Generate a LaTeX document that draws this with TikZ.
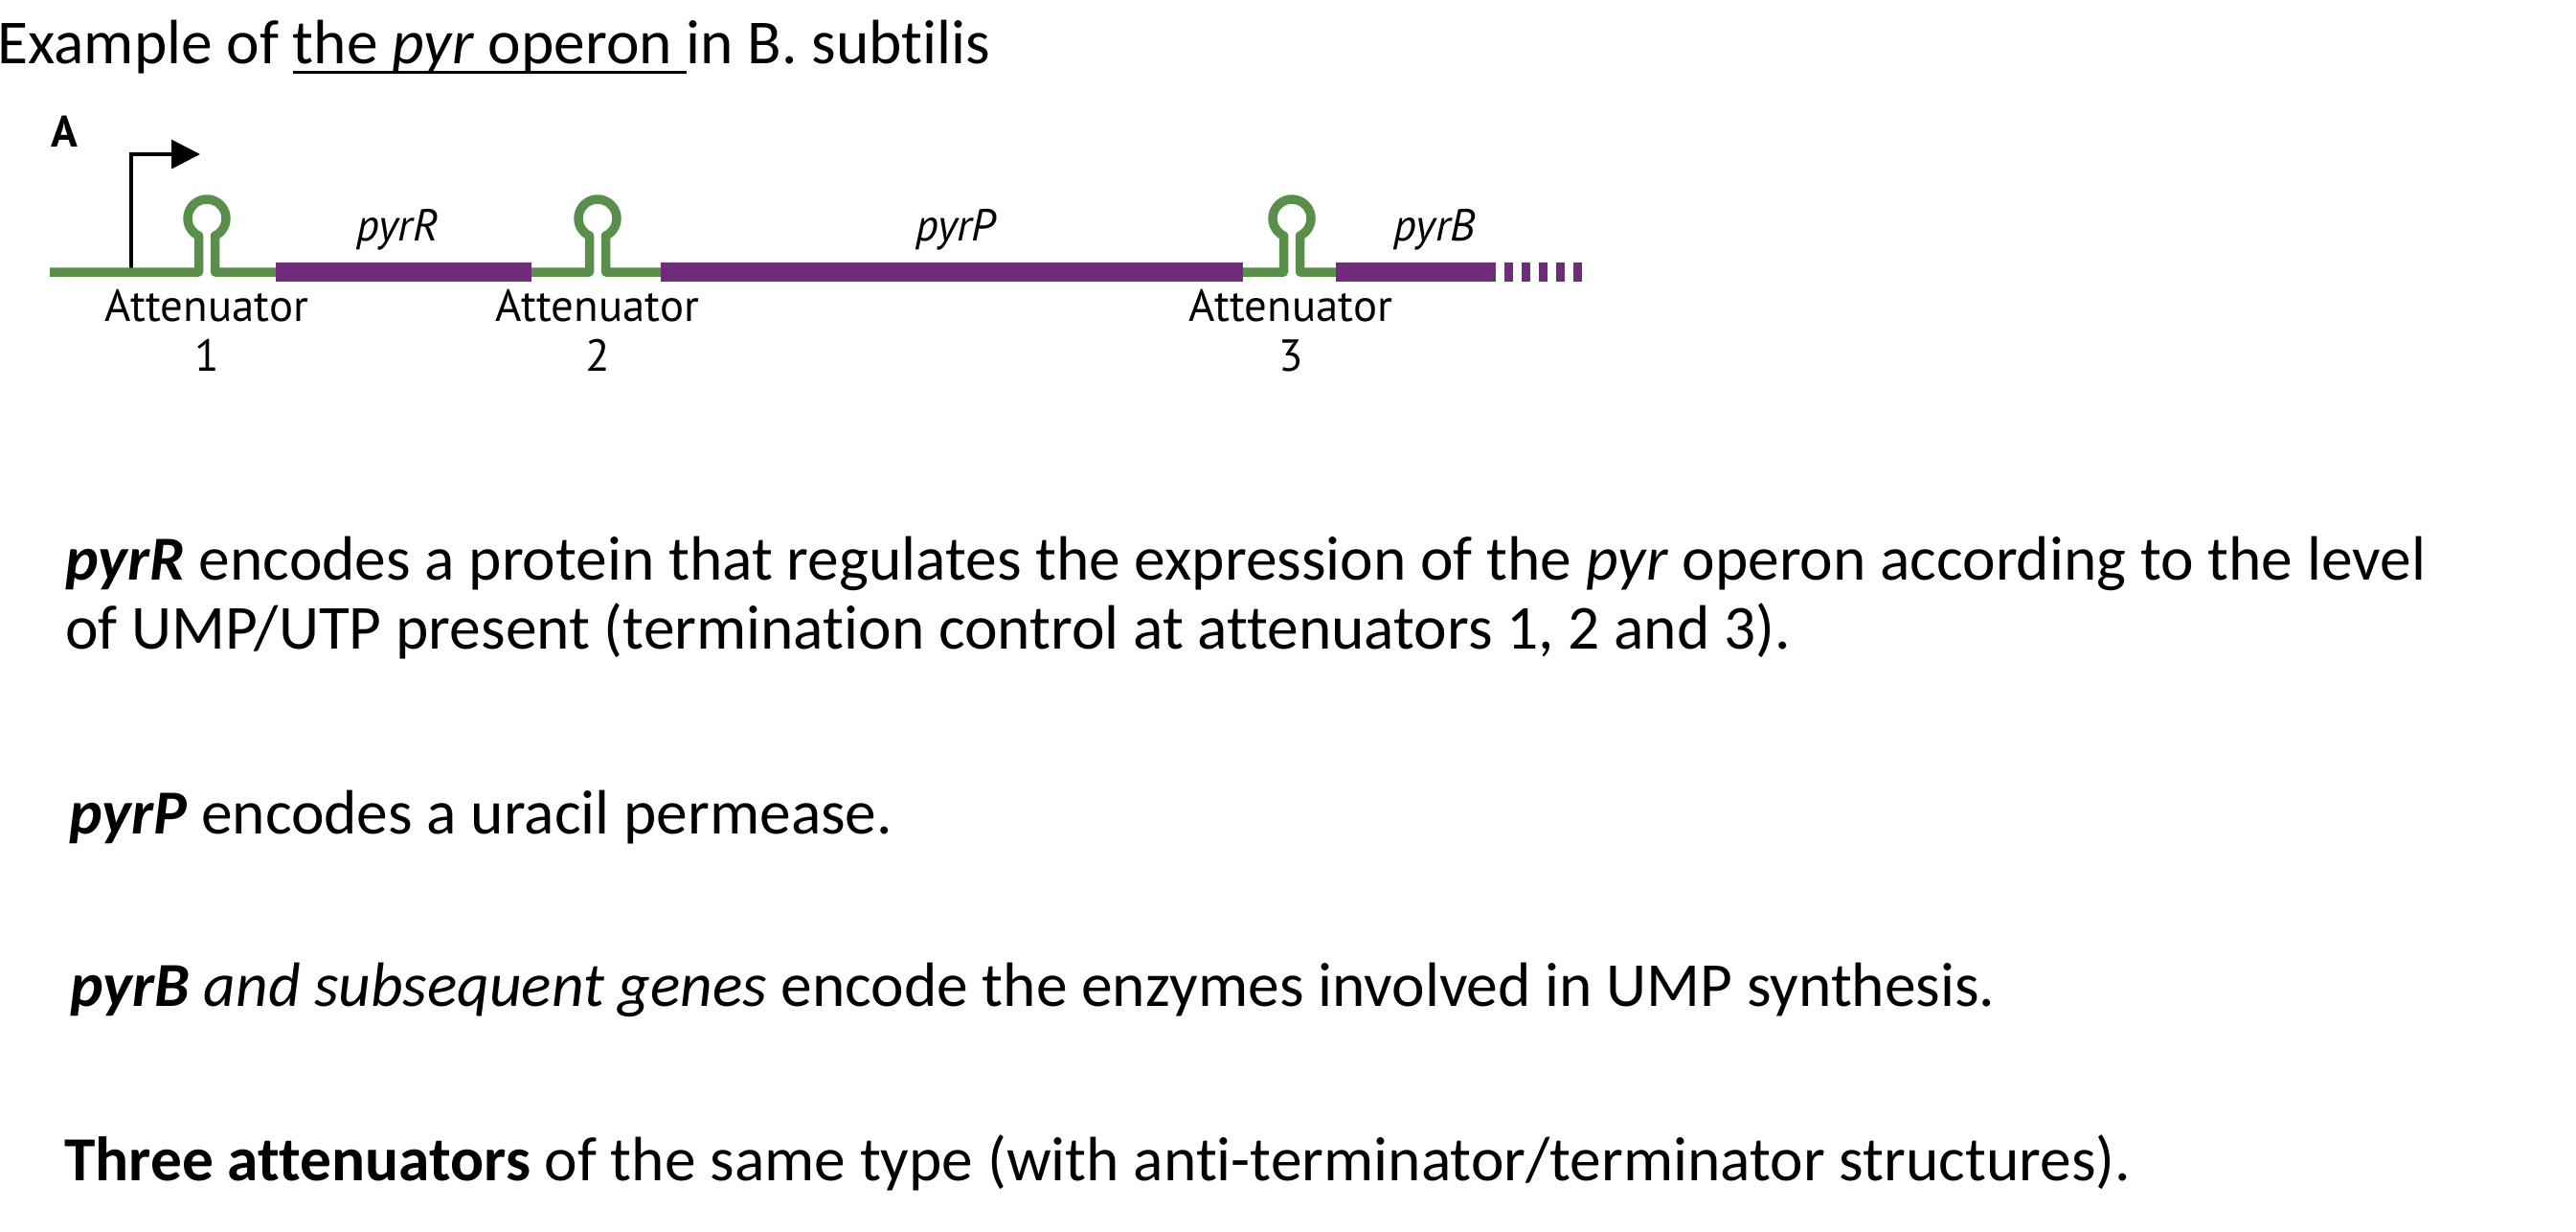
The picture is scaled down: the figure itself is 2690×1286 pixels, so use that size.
\documentclass[tikz,border=0pt]{standalone}
\usepackage{fontspec}
\setmainfont{Carlito}[Ligatures=NoCommon]
\newfontfamily\labelfont{PT Sans}
\usepackage{tikz}
\usetikzlibrary{positioning,arrows.meta}
\definecolor{stemgreen}{HTML}{5A8F4B}
\definecolor{genepurple}{HTML}{6F2D79}
\newcommand\undl[1]{\setbox0\hbox{#1}\rlap{\rule[-5.5pt]{\wd0}{1.4pt}}\box0}

\begin{document}
\begin{tikzpicture}[
  x=0.5pt, y=0.5pt,
  rna/.style={draw=stemgreen, line width=4.75pt, line join=round},
  gene/.style={draw=genepurple, line width=10pt},
  lab/.style={inner sep=0pt, font=\labelfont\fontsize{23.4}{26}\selectfont},
  genename/.style={inner sep=0pt, font=\labelfont\itshape\fontsize{23.4}{26}\selectfont},
  body/.style={anchor=base west, inner sep=0pt, font=\fontsize{32.7}{36}\selectfont},
  promoter/.style={-{Triangle[length=15pt, width=15pt]}, line width=1.75pt}
]
\useasboundingbox (0,0) rectangle (2690,-1286);

% heading and panel letter
\node[body] (title) at (-3,-66) {Example of \undl{the \textit{pyr} operon }in B. subtilis};
\node[lab, anchor=base west, font=\labelfont\bfseries\fontsize{23}{26}\selectfont] (panel) at (53,-153) {A};

% promoter
\coordinate (tss) at (137,-284);
\draw[promoter] (tss) |- (209,-161);

% leader and intergenic RNA with the three hairpins
\draw[rna] (52,-284) -- (207.5,-284) -- (207.5,-246.1) arc[start angle=244.8, end angle=-64.8, radius=20] -- (224.5,-284) -- (292,-284);
\draw[rna] (550,-284) -- (615.5,-284) -- (615.5,-246.1) arc[start angle=244.8, end angle=-64.8, radius=20] -- (632.5,-284) -- (694,-284);
\draw[rna] (1294,-284) -- (1340.5,-284) -- (1340.5,-246.1) arc[start angle=244.8, end angle=-64.8, radius=20] -- (1357.5,-284) -- (1399,-284);

% genes
\draw[gene] (288,-284) -- (555,-284);
\draw[gene] (690,-284) -- (1298,-284);
\draw[gene] (1395,-284) -- (1562,-284);
\draw[gene, dash pattern=on 4.25pt off 4.75pt] (1571,-284) -- (1652,-284);

\node[genename, anchor=base] (pyrR) at (415,-251) {pyrR};
\node[genename, anchor=base] (pyrP) at (998,-251) {pyrP};
\node[genename, anchor=base] (pyrB) at (1498,-251) {pyrB};

% attenuator labels
\node[lab, anchor=base] (att1) at (216,-335) {Attenuator};
\node[lab, anchor=base] (num1) at ([yshift=-26pt]att1.base) {1};
\node[lab, anchor=base] (att2) at (624,-335) {Attenuator};
\node[lab, anchor=base] (num2) at ([yshift=-26pt]att2.base) {2};
\node[lab, anchor=base] (att3) at (1348,-335) {Attenuator};
\node[lab, anchor=base] (num3) at ([yshift=-26pt]att3.base) {3};

% notes
\node[body] (rline1) at (68,-605) {\textbf{\textit{pyrR}} encodes a protein that regulates the expression of the \textit{pyr} operon according to the level};
\node[body] (rline2) at ([yshift=-36pt]rline1.base west) {of UMP/UTP present (termination control at attenuators 1, 2 and 3).};
\node[body] (pline) at (72,-870) {\textbf{\textit{pyrP}} encodes a uracil permease.};
\node[body] (bline) at (73,-1050) {\textbf{\textit{pyrB}} \textit{and subsequent genes} encode the enzymes involved in UMP synthesis.};
\node[body] (tline) at (67,-1232) {\textbf{Three attenuators} of the same type (with anti-terminator/terminator structures).};
\end{tikzpicture}
\end{document}
